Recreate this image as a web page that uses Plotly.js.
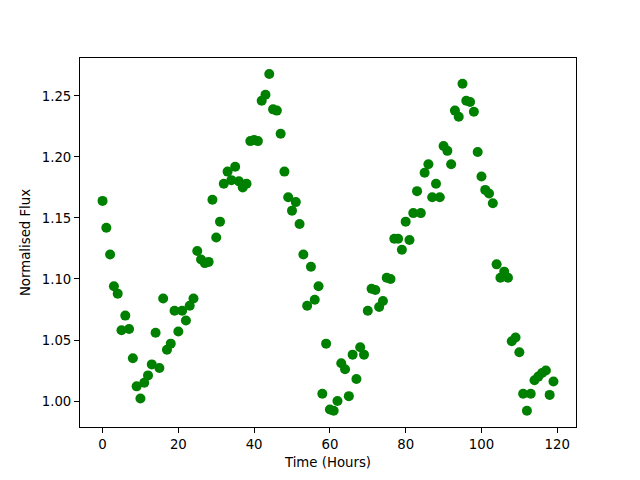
<!DOCTYPE html>
<html>
<head>
<meta charset="utf-8">
<script src="https://cdn.plot.ly/plotly-3.0.1.min.js"></script>
<style>html,body{margin:0;padding:0;background:#fff;}#chart{width:640px;height:480px;}</style>
</head>
<body>
<div id="chart"></div>
<script>
const hours = [];
for (let i = 0; i < 120; i++) hours.push(i);
const flux = [
1.164,1.142,1.120,1.094,1.088,1.058,1.070,1.059,1.035,1.012,
1.002,1.015,1.021,1.030,1.056,1.027,1.084,1.042,1.047,1.074,
1.057,1.074,1.066,1.078,1.084,1.123,1.116,1.113,1.114,1.165,
1.134,1.147,1.178,1.188,1.181,1.192,1.180,1.175,1.178,1.213,
1.214,1.213,1.246,1.251,1.268,1.239,1.238,1.219,1.188,1.167,
1.156,1.163,1.145,1.120,1.078,1.110,1.083,1.094,1.006,1.047,
0.993,0.992,1.000,1.031,1.026,1.004,1.038,1.018,1.044,1.038,
1.074,1.092,1.091,1.077,1.082,1.101,1.100,1.133,1.133,1.124,
1.147,1.132,1.154,1.172,1.154,1.187,1.194,1.167,1.178,1.167,
1.209,1.205,1.194,1.238,1.233,1.260,1.246,1.245,1.237,1.204,
1.184,1.173,1.170,1.162,1.112,1.101,1.106,1.101,1.049,1.052,
1.040,1.006,0.992,1.006,1.017,1.020,1.023,1.025,1.005,1.016
];
const xTicks = [0, 20, 40, 60, 80, 100, 120];
const yTicks = [1.00, 1.05, 1.10, 1.15, 1.20, 1.25];

const font = {family: 'DejaVu Sans, sans-serif', size: 13.3, color: '#000'};
const axisCommon = {
  showline: true, linecolor: '#000', linewidth: 1, mirror: true,
  ticks: 'outside', ticklen: 5, tickwidth: 1, tickcolor: '#000',
  showgrid: false, zeroline: false, tickfont: font, automargin: false
};
const layout = {
  width: 640, height: 480,
  margin: {l: 80, r: 64, t: 58, b: 53},
  paper_bgcolor: '#fff', plot_bgcolor: '#fff',
  showlegend: false,
  font: font,
  xaxis: Object.assign({}, axisCommon, {
    range: [-5.95, 124.95], tickvals: xTicks, ticktext: xTicks.map(String),
    title: {text: 'Time (Hours)', font: font, standoff: 6}
  }),
  yaxis: Object.assign({}, axisCommon, {
    range: [0.9787, 1.2811], tickvals: yTicks, ticktext: yTicks.map(v => v.toFixed(2)),
    title: {text: 'Normalised Flux', font: font, standoff: 8}
  })
};
Plotly.newPlot('chart', [{
  x: hours, y: flux, type: 'scatter', mode: 'markers',
  marker: {color: '#008000', size: 10, line: {width: 0}}
}], layout, {staticPlot: true, displayModeBar: false});
</script>
</body>
</html>
